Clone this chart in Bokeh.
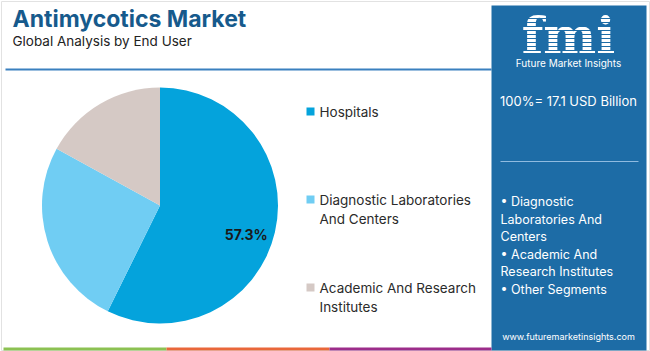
import math
from bokeh.plotting import figure
from bokeh.models import Range1d
from bokeh.core.properties import value
from bokeh.embed import file_html
from bokeh.resources import INLINE

W, H = 650, 351

# ---- data ----
segments = ["Hospitals", "Diagnostic Laboratories And Centers", "Academic And Research Institutes"]
shares = [57.3, 25.7, 17.0]
seg_colors = ["#04a3dc", "#70cdf3", "#d5c9c5"]
legend_lines = [["Hospitals"], ["Diagnostic Laboratories", "And Centers"], ["Academic And Research", "Institutes"]]
label_text = "57.3%"
market_size = "100%= 17.1 USD Billion"
other_lines = ["\u2022 Diagnostic", "Laboratories And", "Centers", "\u2022 Academic And",
               "Research Institutes", "\u2022 Other Segments"]
title = "Antimycotics Market"
subtitle = "Global Analysis by End User"

def Y(y):
    return H - y

p = figure(width=W, height=H, output_backend="svg", toolbar_location=None,
           x_range=Range1d(0, W), y_range=Range1d(0, H), min_border=0)
p.axis.visible = False
p.grid.visible = False
p.outline_line_color = None
p.background_fill_color = "white"
p.border_fill_color = "white"

FONT = value("Inter")

# outer faint border
p.rect(x=[W / 2], y=[H / 2], width=[W - 2], height=[H - 2], fill_color=None,
       line_color="#e2e2e2", line_width=1)

# title
p.text(x=[12], y=[Y(18)], text=[title], text_font=FONT, text_font_size="23px",
       text_font_style="bold", text_color="#165a8c", text_baseline="middle")
p.text(x=[12], y=[Y(40)], text=[subtitle], text_font=FONT, text_font_size="13.5px",
       text_color="#222222", text_baseline="middle")
p.segment(x0=[5], y0=[Y(69)], x1=[491], y1=[Y(69)], line_color="#3a80bf", line_width=2)

# pie
cx, cy, r = 159.5, Y(205), 118
starts, ends = [], []
cum = 0.0
total = sum(shares)
for s in shares:
    starts.append(math.pi / 2 - cum / total * 2 * math.pi)
    cum += s
    ends.append(math.pi / 2 - cum / total * 2 * math.pi)
p.wedge(x=[cx] * 3, y=[cy] * 3, radius=r, start_angle=starts, end_angle=ends,
        direction="clock", fill_color=seg_colors, line_color=None)
# label of largest slice
mid = (starts[0] + ends[0]) / 2 - 0.09
lx = cx + 0.77 * r * math.cos(mid)
ly = cy + 0.77 * r * math.sin(mid)
p.text(x=[lx], y=[ly], text=[label_text], text_font=FONT, text_font_size="14px",
       text_font_style="bold", text_color="#1a1a1a", text_align="center", text_baseline="middle")

# legend
leg_y = [111, 199, 287]
for i, lines in enumerate(legend_lines):
    p.rect(x=[310], y=[Y(leg_y[i])], width=8, height=8, fill_color=seg_colors[i], line_color=None)
    for j, t in enumerate(lines):
        p.text(x=[319], y=[Y(leg_y[i] + j * 19)], text=[t], text_font=FONT, text_font_size="13.5px",
               text_color="#2b2b2b", text_baseline="middle")

# right panel
PANEL = "#1d6ca6"
p.quad(left=[491], right=[646], top=[Y(5)], bottom=[Y(350)], fill_color=PANEL, line_color=None)

# logo
p.text(x=[568], y=[Y(35)], text=["fmi"], text_font=value("DejaVu Serif"), text_font_size="50px",
       text_font_style="bold", text_color="white", text_align="center", text_baseline="middle")
stripe_y = [y for y in range(18, 56, 4)]
p.segment(x0=[512] * len(stripe_y), y0=[Y(v) for v in stripe_y], x1=[624] * len(stripe_y),
          y1=[Y(v) for v in stripe_y], line_color=PANEL, line_width=1.2)
p.text(x=[568], y=[Y(62)], text=["Future Market Insights"], text_font=FONT, text_font_size="10px",
       text_color="white", text_align="center", text_baseline="middle")

p.text(x=[568], y=[Y(100)], text=[market_size], text_font=FONT, text_font_size="13px",
       text_color="white", text_align="center", text_baseline="middle")
p.segment(x0=[500], y0=[Y(161)], x1=[638], y1=[Y(161)], line_color="#8fbbe0", line_width=1)

oy = [201, 218.5, 236, 253.5, 271, 288.5]
p.text(x=[500] * len(other_lines), y=[Y(v) for v in oy], text=other_lines, text_font=FONT,
       text_font_size="12.5px", text_color="white", text_baseline="middle")
p.text(x=[568], y=[Y(336)], text=["www.futuremarketinsights.com"], text_font=FONT,
       text_font_size="9px", text_color="white", text_align="center", text_baseline="middle")

# bottom colour strip
p.quad(left=[3, 166, 329], right=[166, 329, 491], top=[Y(347)] * 3, bottom=[Y(350)] * 3,
       fill_color=["#8cc152", "#e9673a", "#9c2d8a"], line_color=None)

open("out.html", "w").write(file_html(p, INLINE))
